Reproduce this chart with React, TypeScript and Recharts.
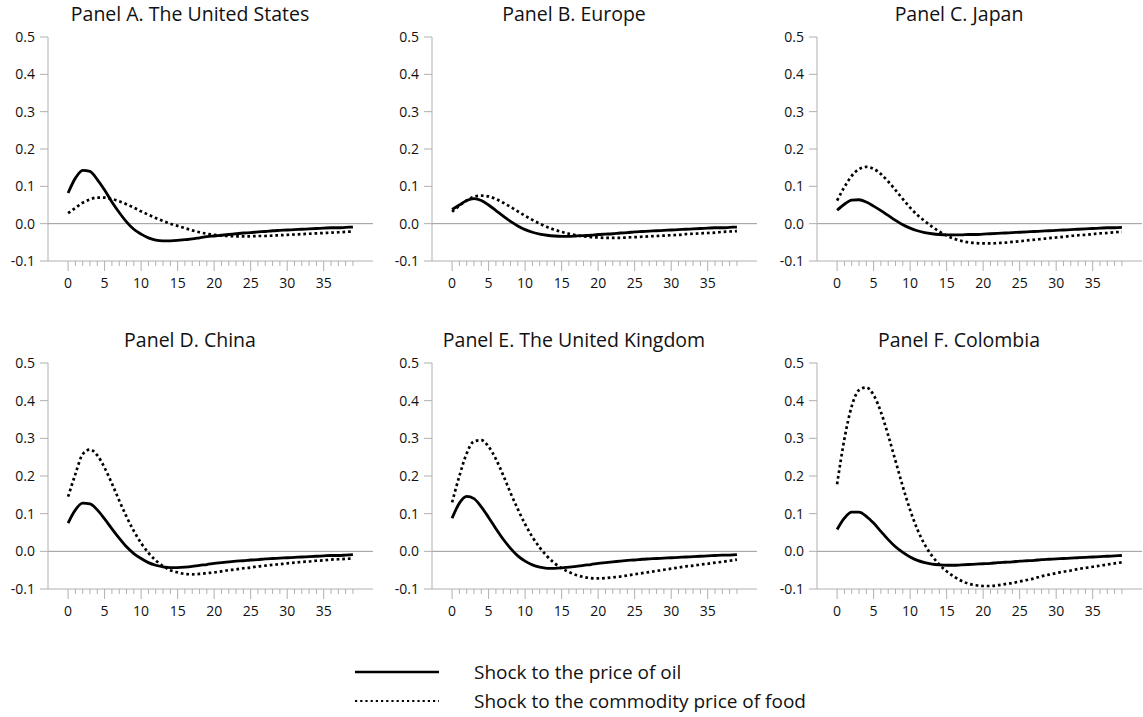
import { LineChart, Line, XAxis, YAxis, ReferenceLine } from "recharts";

const periods = [
  0, 1, 2, 3, 4, 5, 6, 7, 8, 9, 10, 11, 12, 13, 14, 15, 16, 17, 18, 19,
  20, 21, 22, 23, 24, 25, 26, 27, 28, 29, 30, 31, 32, 33, 34, 35, 36, 37, 38, 39,
];
const xLabels = [0, 5, 10, 15, 20, 25, 30, 35];
const yTicks = [-0.1, 0, 0.1, 0.2, 0.3, 0.4, 0.5];

const titles = [
  "Panel A. The United States",
  "Panel B. Europe",
  "Panel C. Japan",
  "Panel D. China",
  "Panel E. The United Kingdom",
  "Panel F. Colombia",
];

// shock to the price of oil (solid)
const oilUS = [0.082, 0.122, 0.143, 0.14, 0.118, 0.09, 0.058, 0.03, 0.005, -0.015, -0.028, -0.038, -0.044, -0.046, -0.046, -0.045, -0.043, -0.041, -0.038, -0.035, -0.033, -0.031, -0.029, -0.027, -0.025, -0.024, -0.022, -0.021, -0.019, -0.018, -0.017, -0.016, -0.015, -0.014, -0.013, -0.012, -0.011, -0.011, -0.01, -0.009];
const oilEU = [0.038, 0.05, 0.062, 0.067, 0.062, 0.05, 0.035, 0.02, 0.006, -0.006, -0.016, -0.023, -0.028, -0.031, -0.033, -0.034, -0.034, -0.033, -0.032, -0.031, -0.029, -0.028, -0.027, -0.025, -0.024, -0.022, -0.021, -0.02, -0.019, -0.018, -0.017, -0.016, -0.015, -0.014, -0.013, -0.012, -0.011, -0.011, -0.01, -0.009];
const oilJP = [0.036, 0.052, 0.063, 0.064, 0.058, 0.047, 0.035, 0.022, 0.009, -0.003, -0.012, -0.019, -0.024, -0.027, -0.029, -0.03, -0.03, -0.03, -0.029, -0.029, -0.028, -0.027, -0.026, -0.025, -0.024, -0.023, -0.022, -0.021, -0.02, -0.019, -0.018, -0.017, -0.016, -0.015, -0.014, -0.013, -0.012, -0.011, -0.011, -0.01];
const oilCN = [0.075, 0.11, 0.128, 0.126, 0.11, 0.086, 0.06, 0.035, 0.012, -0.006, -0.019, -0.03, -0.037, -0.041, -0.043, -0.043, -0.042, -0.04, -0.037, -0.035, -0.032, -0.03, -0.028, -0.026, -0.025, -0.023, -0.022, -0.02, -0.019, -0.018, -0.017, -0.016, -0.015, -0.014, -0.013, -0.012, -0.011, -0.011, -0.01, -0.009];
const oilUK = [0.088, 0.128, 0.146, 0.14, 0.118, 0.09, 0.06, 0.032, 0.008, -0.012, -0.026, -0.036, -0.042, -0.045, -0.045, -0.044, -0.042, -0.04, -0.037, -0.035, -0.032, -0.03, -0.028, -0.026, -0.024, -0.023, -0.021, -0.02, -0.019, -0.018, -0.017, -0.016, -0.015, -0.014, -0.013, -0.012, -0.011, -0.01, -0.01, -0.009];
const oilCO = [0.058, 0.088, 0.104, 0.104, 0.093, 0.075, 0.053, 0.031, 0.012, -0.003, -0.015, -0.024, -0.03, -0.034, -0.036, -0.037, -0.037, -0.036, -0.035, -0.034, -0.033, -0.032, -0.03, -0.029, -0.028, -0.026, -0.025, -0.024, -0.022, -0.021, -0.02, -0.019, -0.018, -0.017, -0.016, -0.015, -0.014, -0.013, -0.012, -0.011];

// shock to the commodity price of food (dotted)
const foodUS = [0.028, 0.042, 0.056, 0.065, 0.07, 0.07, 0.066, 0.06, 0.052, 0.043, 0.033, 0.024, 0.015, 0.007, 0.0, -0.006, -0.012, -0.018, -0.023, -0.027, -0.03, -0.032, -0.033, -0.034, -0.034, -0.034, -0.033, -0.033, -0.032, -0.031, -0.03, -0.029, -0.028, -0.027, -0.026, -0.025, -0.024, -0.023, -0.022, -0.021];
const foodEU = [0.032, 0.048, 0.062, 0.072, 0.075, 0.073, 0.066, 0.056, 0.045, 0.033, 0.021, 0.01, 0.0, -0.009, -0.016, -0.022, -0.027, -0.031, -0.034, -0.036, -0.037, -0.038, -0.038, -0.038, -0.037, -0.036, -0.035, -0.034, -0.033, -0.032, -0.031, -0.03, -0.028, -0.027, -0.026, -0.025, -0.024, -0.022, -0.021, -0.02];
const foodJP = [0.062, 0.098, 0.128, 0.146, 0.152, 0.147, 0.133, 0.113, 0.09, 0.066, 0.043, 0.023, 0.007, -0.008, -0.021, -0.032, -0.04, -0.046, -0.05, -0.052, -0.053, -0.053, -0.052, -0.051, -0.049, -0.047, -0.045, -0.043, -0.041, -0.039, -0.037, -0.035, -0.033, -0.031, -0.03, -0.028, -0.026, -0.025, -0.023, -0.022];
const foodCN = [0.145, 0.205, 0.258, 0.27, 0.255, 0.222, 0.18, 0.135, 0.092, 0.054, 0.022, -0.004, -0.024, -0.039, -0.05, -0.056, -0.06, -0.061, -0.06, -0.058, -0.056, -0.053, -0.05, -0.048, -0.045, -0.043, -0.04, -0.038, -0.036, -0.034, -0.032, -0.03, -0.028, -0.027, -0.025, -0.024, -0.022, -0.021, -0.02, -0.019];
const foodUK = [0.13, 0.2, 0.26, 0.292, 0.295, 0.278, 0.245, 0.202, 0.155, 0.112, 0.072, 0.038, 0.01, -0.013, -0.031, -0.045, -0.055, -0.063, -0.068, -0.071, -0.072, -0.071, -0.069, -0.067, -0.064, -0.061, -0.058, -0.055, -0.052, -0.049, -0.046, -0.043, -0.04, -0.038, -0.035, -0.033, -0.03, -0.028, -0.025, -0.022];
const foodCO = [0.178, 0.298, 0.385, 0.428, 0.435, 0.415, 0.37, 0.308, 0.24, 0.172, 0.11, 0.058, 0.018, -0.012, -0.035, -0.053, -0.067, -0.078, -0.086, -0.09, -0.092, -0.092, -0.09, -0.087, -0.084, -0.08, -0.076, -0.072, -0.066, -0.062, -0.058, -0.054, -0.051, -0.047, -0.044, -0.041, -0.038, -0.035, -0.032, -0.029];

const oilSeries = [oilUS, oilEU, oilJP, oilCN, oilUK, oilCO];
const foodSeries = [foodUS, foodEU, foodJP, foodCN, foodUK, foodCO];

const FONT = "'Open Sans', sans-serif";
const AXIS = "#b0b0b0";

function XTick({ x, y, payload }: any) {
  const v = payload.value;
  const major = v % 5 === 0;
  return (
    <g>
      <line x1={x} x2={x} y1={y} y2={y + (major ? 10 : 5)} stroke={AXIS} strokeWidth={1} />
      {major && xLabels.includes(v) && (
        <text x={x} y={y + 27} textAnchor="middle" fontSize={14} fill="#111" fontFamily={FONT}>
          {v}
        </text>
      )}
    </g>
  );
}

function Panel({ idx, left, top, h }: { idx: number; left: number; top: number; h: number }) {
  const data = periods.map((p, i) => ({ t: p, oil: oilSeries[idx][i], food: foodSeries[idx][i] }));
  return (
    <div style={{ position: "absolute", left, top, width: 380, height: h + 4 }}>
      <div
        style={{
          position: "absolute",
          left: 0,
          top: 1,
          width: 380,
          textAlign: "center",
          fontSize: 19.5,
          lineHeight: "26px",
          color: "#111",
        }}
      >
        {titles[idx]}
      </div>
      <div style={{ position: "absolute", left: 0, top: 0 }}>
        <LineChart width={375} height={h} data={data} margin={{ top: 37, right: 2, left: 0, bottom: 0 }}>
          <XAxis
            dataKey="t"
            type="number"
            domain={[-2.75, 41.75]}
            ticks={periods}
            interval={0}
            tickSize={0}
            tickMargin={0}
            tickLine={false}
            height={30}
            stroke={AXIS}
            tick={<XTick />}
          />
          <YAxis
            type="number"
            domain={[-0.1, 0.5]}
            ticks={yTicks}
            width={48}
            tickSize={8}
            tickMargin={5}
            stroke={AXIS}
            tickFormatter={(v: number) => v.toFixed(1)}
            tick={{ fontSize: 14, fill: "#111", fontFamily: FONT }}
            allowDataOverflow
          />
          <ReferenceLine y={0} stroke="#999" strokeWidth={1} />
          <Line
            dataKey="food"
            type="monotone"
            stroke="#000"
            strokeWidth={2.7}
            strokeDasharray="2.7 2.9"
            dot={false}
            isAnimationActive={false}
          />
          <Line dataKey="oil" type="monotone" stroke="#000" strokeWidth={2.8} dot={false} isAnimationActive={false} />
        </LineChart>
      </div>
    </div>
  );
}

export default function App() {
  const lefts = [0, 384, 769];
  const tops = [0, 326];
  const heights = [291, 293];
  return (
    <div
      style={{
        position: "absolute",
        left: 0,
        top: 0,
        width: 1143,
        height: 717,
        background: "#fff",
        fontFamily: FONT,
        overflow: "hidden",
      }}
    >
      {titles.map((_, i) => (
        <Panel
          key={i}
          idx={i}
          left={lefts[i % 3]}
          top={tops[Math.floor(i / 3)]}
          h={heights[Math.floor(i / 3)]}
        />
      ))}
      <svg style={{ position: "absolute", left: 350, top: 655 }} width={100} height={60}>
        <line x1={5} x2={89} y1={17} y2={17} stroke="#000" strokeWidth={2.6} />
        <line x1={5} x2={89} y1={46} y2={46} stroke="#000" strokeWidth={2.2} strokeDasharray="2.2 3" />
      </svg>
      <div style={{ position: "absolute", left: 474, top: 658, fontSize: 19, lineHeight: "29px", color: "#111" }}>
        <div>Shock to the price of oil</div>
        <div>Shock to the commodity price of food</div>
      </div>
    </div>
  );
}
